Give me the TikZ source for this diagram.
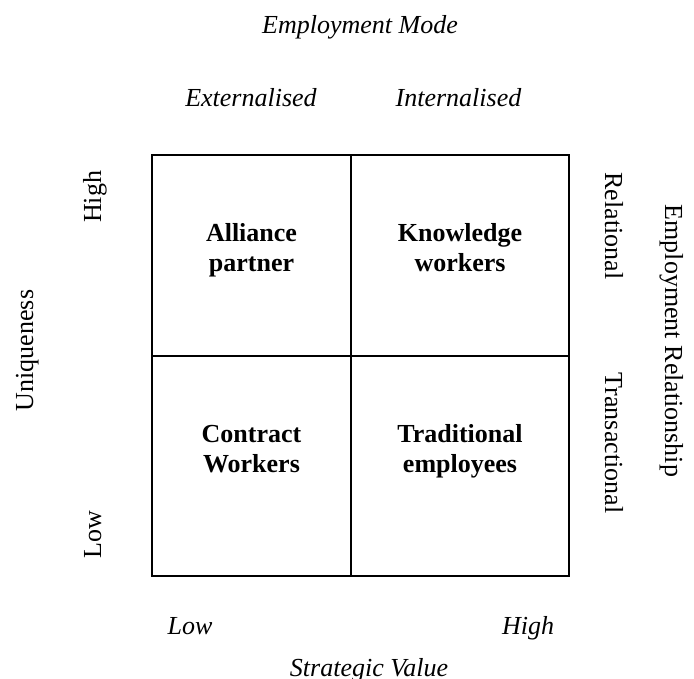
\documentclass[tikz,border=0pt]{standalone}
\usepackage{fontspec}
\setmainfont{Liberation Serif}
\begin{document}
\begin{tikzpicture}[x=1pt,y=-1pt,
  grid/.style={line width=2.2pt, line cap=rect, line join=miter},
  cell/.style={font=\fontsize{26}{30}\selectfont\bfseries, align=center, anchor=base, inner sep=0pt},
  axis/.style={font=\fontsize{26}{30}\selectfont\itshape, anchor=base, inner sep=0pt},
  side/.style={font=\fontsize{26}{30}\selectfont, anchor=base, inner sep=0pt}]
\useasboundingbox (0,0) rectangle (694,679);
% grid
\coordinate (tl) at (152,155);
\coordinate (br) at (569,576);
\coordinate (mt) at (351,155);
\coordinate (mb) at (351,576);
\coordinate (ml) at (152,356);
\coordinate (mr) at (569,356);
\draw[grid] (tl) rectangle (br);
\draw[grid] (mt) -- (mb);
\draw[grid] (ml) -- (mr);
% cells (anchor base = baseline of last line)
\node[cell] (alliance) at (251.5,272) {Alliance\\partner};
\node[cell] (knowledge) at (460,272) {Knowledge\\workers};
\node[cell] (contract) at (251.5,472) {Contract\\Workers};
\node[cell] (traditional) at (460,472) {Traditional\\employees};
% top
\node[axis] (empmode) at (360,34) {Employment Mode};
\node[axis] (ext) at (251,107) {Externalised};
\node[axis] (int) at (458.5,107) {Internalised};
% bottom
\node[axis] (lowx) at (190,634) {Low};
\node[axis] (highx) at (528,634) {High};
\node[axis] (strat) at (369,676) {Strategic Value};
% left
\node[side, rotate=90] (uniq) at (33,350.5) {Uniqueness};
\node[side, rotate=90] (highy) at (101,197) {High};
\node[side, rotate=90] (lowy) at (101,535) {Low};
% right
\node[side, rotate=-90] (rel) at (605,226) {Relational};
\node[side, rotate=-90] (trans) at (605,443) {Transactional};
\node[side, rotate=-90] (emprel) at (665,341) {Employment Relationship};
\end{tikzpicture}
\end{document}
